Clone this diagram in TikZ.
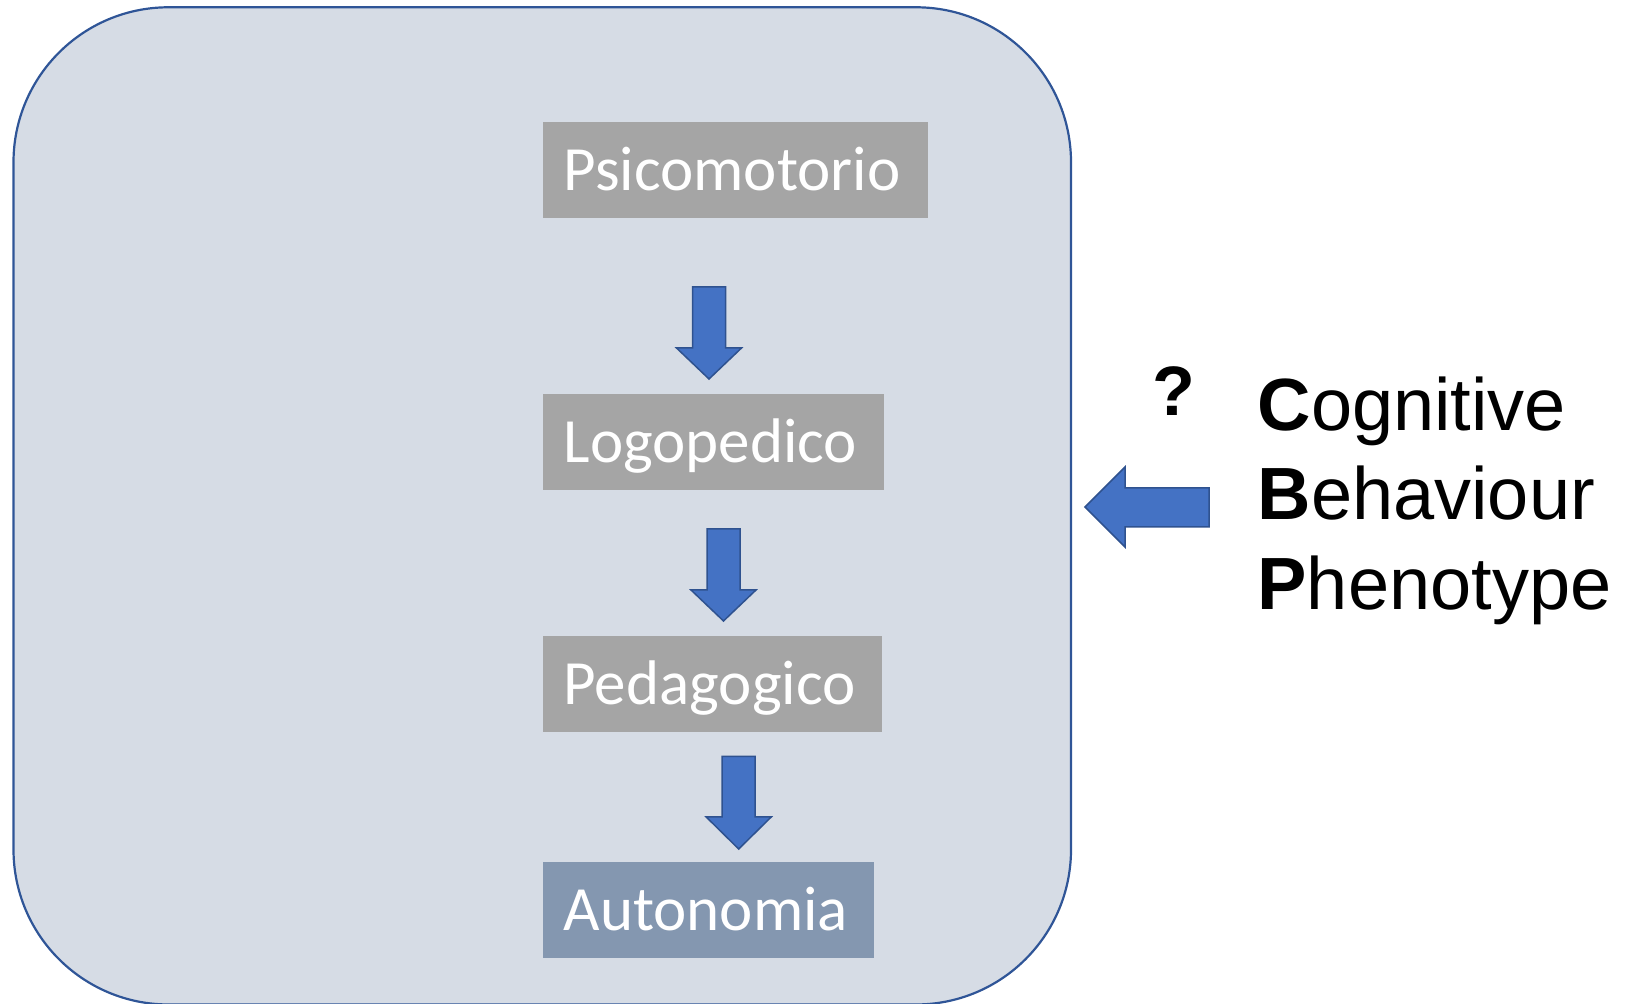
\documentclass[tikz,border=0pt]{standalone}
\usepackage{fontspec}
\setmainfont{Carlito}
\newfontfamily\arialfont{Liberation Sans}
\usepackage{tikz}
\usetikzlibrary{shapes,arrows,positioning}

\definecolor{panelfill}{HTML}{D6DCE5}
\definecolor{paneldraw}{HTML}{2F5597}
\definecolor{stagegray}{HTML}{A5A5A5}
\definecolor{stageblue}{HTML}{8497B0}
\definecolor{arrowfill}{HTML}{4472C4}
\definecolor{arrowdraw}{HTML}{2F528F}

\begin{document}
\begin{tikzpicture}[x=0.5pt,y=0.5pt,semithick]
\tikzstyle{stage}=[fill=stagegray,text=white,anchor=west,align=left,inner xsep=10.5pt,inner ysep=0pt,
  minimum height=48pt,text height=20.3pt,text depth=0pt,font=\fontsize{31.5}{38}\selectfont]
\tikzstyle{bigarrow}=[fill=arrowfill,draw=arrowdraw,line width=0.75pt,line join=miter]
\tikzstyle{cbp}=[anchor=base west,inner sep=0pt,font=\arialfont\fontsize{37}{44}\selectfont]
\useasboundingbox (0,0) rectangle (1631,1004);

% the panel
\draw[fill=panelfill,draw=paneldraw,line width=1.1pt,rounded corners=77.5pt] (13.5,-0.5) rectangle (1071,996.7);

% stages
\node[stage,text width=171.5pt] (P) at (542,834) {Psicomotorio};
\node[stage,text width=149.5pt] (L) at (542,562) {Logopedico};
\node[stage,text width=148.5pt] (Pe) at (542,320) {Pedagogico};
\node[stage,text width=144.5pt,fill=stageblue] (A) at (542,93.5) {Autonomia};

% down arrows between stages
\foreach \cx/\top/\neck/\tip in {709/717/656/625, 723.5/475/414/383, 738.7/247.5/187/155}
  \draw[bigarrow] (\cx-16.5,\top) -- (\cx+16.5,\top) -- (\cx+16.5,\neck) -- (\cx+32.5,\neck)
    -- (\cx,\tip) -- (\cx-32.5,\neck) -- (\cx-16.5,\neck) -- cycle;

% CBP
\node[cbp,font=\arialfont\bfseries\fontsize{35}{42}\selectfont] (q) at (1152,588) {?};
\node[cbp] (cog) at (1257,573) {\textbf{C}ognitive};
\node[cbp] (beh) at (1257,484) {\textbf{B}ehaviour};
\node[cbp] (phen) at (1257,394) {\textbf{P}henotype};

\draw[bigarrow] (1209,516) -- (1125,516) -- (1125,537) -- (1085,497) -- (1125,457) -- (1125,477) -- (1209,477) -- cycle;
\end{tikzpicture}
\end{document}
